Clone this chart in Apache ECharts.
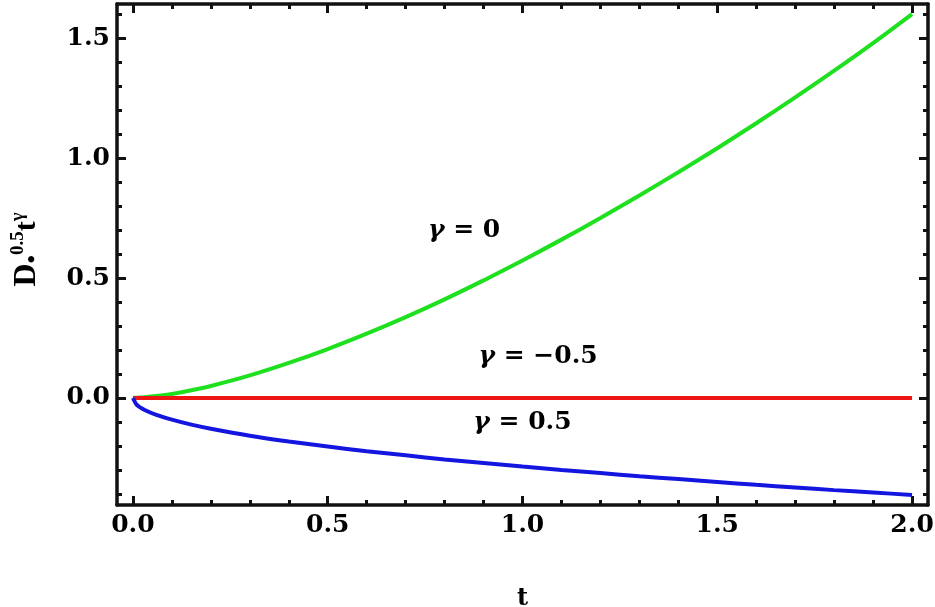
<!DOCTYPE html>
<html lang="en">
<head>
    <meta charset="UTF-8">
    <title>caputo derivative</title>
    <script src="https://cdn.jsdelivr.net/npm/echarts@6/dist/echarts.min.js"></script>
</head>
<body style="margin:0;background:#fff;">
<div id="main" style="width: 935px;height:607px;"></div>
</body>

<script type="text/javascript">

    // values
    var tValues = [0, 0.01, 0.03, 0.06, 0.1, 0.15, 0.2, 0.3, 0.4, 0.5, 0.6, 0.7, 0.8, 0.9, 1.0,
        1.1, 1.2, 1.3, 1.4, 1.5, 1.6, 1.7, 1.8, 1.9, 2.0];
    var gamma0 = [0, 0.001, 0.003, 0.008, 0.017, 0.032, 0.050, 0.094, 0.146, 0.204, 0.268, 0.337, 0.411, 0.490, 0.573,
        0.660, 0.750, 0.844, 0.941, 1.041, 1.145, 1.253, 1.364, 1.479, 1.60];
    var gammaMinusHalf = [0, 0, 0, 0, 0, 0, 0, 0, 0, 0, 0, 0, 0, 0, 0,
        0, 0, 0, 0, 0, 0, 0, 0, 0, 0];
    var gammaHalf = [0, -0.029, -0.05, -0.07, -0.09, -0.111, -0.128, -0.157, -0.181, -0.202, -0.222, -0.239, -0.256, -0.271, -0.286,
        -0.30, -0.313, -0.326, -0.338, -0.350, -0.362, -0.373, -0.384, -0.394, -0.404];

    var xMajorTicks = [0, 0.5, 1.0, 1.5, 2.0];
    var xMinorTicks = [0, 0.1, 0.2, 0.3, 0.4, 0.5, 0.6, 0.7, 0.8, 0.9, 1.0, 1.1, 1.2, 1.3, 1.4, 1.5, 1.6, 1.7, 1.8, 1.9, 2.0];
    var yMajorTicks = [0, 0.5, 1.0, 1.5];
    var yMinorTicks = [-0.4, -0.3, -0.2, -0.1, 0, 0.1, 0.2, 0.3, 0.4, 0.5, 0.6, 0.7, 0.8, 0.9, 1.0, 1.1, 1.2, 1.3, 1.4, 1.5, 1.6];

    // label anchors [t, value]
    var labelGamma0 = [0.85, 0.70];
    var labelGammaMinusHalf = [1.04, 0.171];
    var labelGammaHalf = [1.0, -0.104];

    var pairs = function (ys) {
        var res = [];
        for (var i = 0; i < tValues.length; i++) {
            res.push([tValues[i], ys[i]]);
        }
        return res;
    };

    var font = 'DejaVu Serif';
    var xMin = -0.041, xMax = 2.041, yMin = -0.446, yMax = 1.642;

    var makeX = function (pos, ticks, len, labels) {
        return {
            type: 'value', position: pos, min: xMin, max: xMax, offset: 0,
            axisLine: {show: len > 6, onZero: false, lineStyle: {color: '#111', width: 3.5}},
            axisTick: {show: true, inside: true, length: len, customValues: ticks,
                lineStyle: {color: '#111', width: 3}},
            axisLabel: {show: labels, customValues: xMajorTicks, margin: 8,
                color: '#000', fontFamily: font, fontWeight: 'bold', fontSize: 25,
                formatter: function (v) { return v.toFixed(1); }},
            splitLine: {show: false}
        };
    };
    var makeY = function (pos, ticks, len, labels) {
        return {
            type: 'value', position: pos, min: yMin, max: yMax, offset: 0,
            axisLine: {show: len > 6, onZero: false, lineStyle: {color: '#111', width: 3.5}},
            axisTick: {show: true, inside: true, length: len, customValues: ticks,
                lineStyle: {color: '#111', width: 3}},
            axisLabel: {show: labels, customValues: yMajorTicks, margin: 7,
                color: '#000', fontFamily: font, fontWeight: 'bold', fontSize: 25,
                formatter: function (v) { return v.toFixed(1); }},
            splitLine: {show: false}
        };
    };

    var xAxes = [makeX('bottom', xMajorTicks, 9, true), makeX('bottom', xMinorTicks, 5, false),
        makeX('top', xMajorTicks, 9, false), makeX('top', xMinorTicks, 5, false)];
    xAxes[0].name = 't';
    xAxes[0].nameLocation = 'middle';
    xAxes[0].nameGap = 82;
    xAxes[0].nameTextStyle = {color: '#000', fontFamily: font, fontWeight: 'bold', fontSize: 24};

    var yAxes = [makeY('left', yMajorTicks, 9, true), makeY('left', yMinorTicks, 5, false),
        makeY('right', yMajorTicks, 9, false), makeY('right', yMinorTicks, 5, false)];
    yAxes[0].name = '{d|D}{sub|•}{sup|0.5}{t|t}{sup|γ}';
    yAxes[0].nameLocation = 'middle';
    yAxes[0].nameRotate = 90;
    yAxes[0].nameGap = 72;
    yAxes[0].nameTextStyle = {
        color: '#000',
        padding: [0, 0, 0, 0],
        rich: {
            d: {fontFamily: 'Liberation Serif', fontWeight: 'bold', fontSize: 32, lineHeight: 36, verticalAlign: 'middle', padding: [0, 0, 0, 10]},
            sub: {fontFamily: 'Liberation Serif', fontWeight: 'bold', fontSize: 24, lineHeight: 20, verticalAlign: 'bottom'},
            sup: {fontFamily: 'Liberation Serif', fontWeight: 'bold', fontSize: 19, lineHeight: 17, verticalAlign: 'top'},
            t: {fontFamily: 'Liberation Serif', fontWeight: 'bold', fontSize: 30, lineHeight: 36, verticalAlign: 'middle'}
        }
    };

    var labelRich = {
        g: {fontFamily: 'DejaVu Serif', fontStyle: 'italic', fontWeight: 'bold', fontSize: 25, color: '#000'},
        v: {fontFamily: font, fontWeight: 'bold', fontSize: 25, color: '#000'}
    };

    var curve = function (name, ys, color, anchor, text) {
        return {
            name: name,
            type: 'line',
            data: pairs(ys),
            smooth: 0.25,
            showSymbol: false,
            symbol: 'none',
            lineStyle: {color: color, width: 4},
            itemStyle: {color: color},
            markPoint: {
                symbol: 'circle',
                symbolSize: 0,
                itemStyle: {color: 'rgba(0,0,0,0)'},
                label: {show: true, position: 'inside', formatter: text, rich: labelRich},
                data: [{coord: anchor}]
            },
            z: 3
        };
    };

    var option = {
        backgroundColor: '#fff',
        animation: false,
        grid: {left: 117, right: 7, top: 4, bottom: 102, outerBoundsMode: 'none'},
        xAxis: xAxes,
        yAxis: yAxes,
        series: [
            curve('γ = 0', gamma0, '#1ee01e', labelGamma0, '{g|γ}{v| = 0}'),
            curve('γ = −0.5', gammaMinusHalf, '#ee1515', labelGammaMinusHalf, '{g|γ}{v| = −0.5}'),
            curve('γ = 0.5', gammaHalf, '#1515e0', labelGammaHalf, '{g|γ}{v| = 0.5}')
        ]
    };

    var myChart = echarts.init(document.getElementById('main'));
    myChart.setOption(option);

</script>
</html>
